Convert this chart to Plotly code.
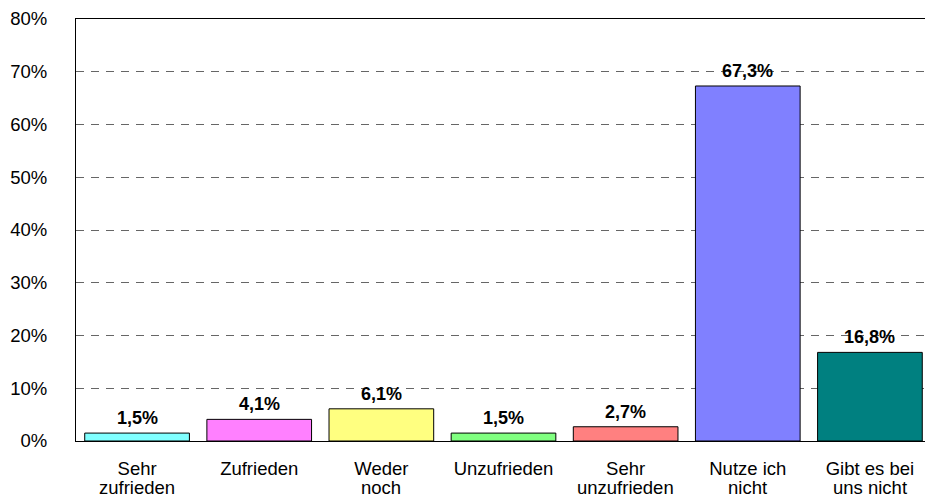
import plotly.graph_objects as go

# Data
categories = ['Sehr zufrieden', 'Zufrieden', 'Weder noch', 'Unzufrieden',
              'Sehr unzufrieden', 'Nutze ich nicht', 'Gibt es bei uns nicht']
label_line1 = ['Sehr', 'Zufrieden', 'Weder', 'Unzufrieden', 'Sehr', 'Nutze ich', 'Gibt es bei']
label_line2 = ['zufrieden', '', 'noch', '', 'unzufrieden', 'nicht', 'uns nicht']
values = [0.015, 0.041, 0.061, 0.015, 0.027, 0.673, 0.168]
colors = ['#80FFFF', '#FF80FF', '#FFFF80', '#80FF80', '#FF8080', '#8080FF', '#008080']

font = 'Liberation Sans, Arial, sans-serif'

fig = go.Figure()
fig.add_trace(
    go.Bar(
        x=categories,
        y=values,
        marker=dict(color=colors, line=dict(color='black', width=1)),
        hoverinfo='skip'
    )
)

# value labels above bars
for cat, val in zip(categories, values):
    fig.add_annotation(
        x=cat, y=val,
        text='<b>' + f'{val*100:.1f}'.replace('.', ',') + '%</b>',
        showarrow=False,
        yanchor='bottom',
        yshift=3,
        font=dict(family=font, size=18, color='black')
    )

# second line of the category labels (tighter line spacing than <br>)
for cat, line in zip(categories, label_line2):
    if line:
        fig.add_annotation(
            x=cat, y=0,
            text=line,
            showarrow=False,
            yanchor='top',
            yshift=-34,
            font=dict(family=font, size=18.5, color='black')
        )

# the original plot area runs a few pixels past the right edge of the window
fig.update_layout(
    width=931,
    height=497,
    margin=dict(l=76, r=0, t=19, b=56),
    paper_bgcolor='white',
    plot_bgcolor='white',
    bargap=0.143,
    showlegend=False,
    font=dict(family=font, size=18.5, color='black')
)
fig.update_xaxes(
    tickvals=categories, ticktext=label_line1,
    showline=True, linecolor='black', linewidth=1, mirror=True,
    showgrid=False, ticks='', ticklabelstandoff=11
)
fig.update_yaxes(
    range=[0, 0.8], dtick=0.1, tickformat='.0%',
    showline=True, linecolor='black', linewidth=1,
    showgrid=True, gridcolor='#666666', griddash='8px,7px', gridwidth=1,
    zeroline=False, ticks='', ticklabelstandoff=24
)

fig.write_html(
    'out.html',
    config={'displayModeBar': False},
    post_script="document.body.style.margin='0'; document.body.style.overflow='hidden';"
)
